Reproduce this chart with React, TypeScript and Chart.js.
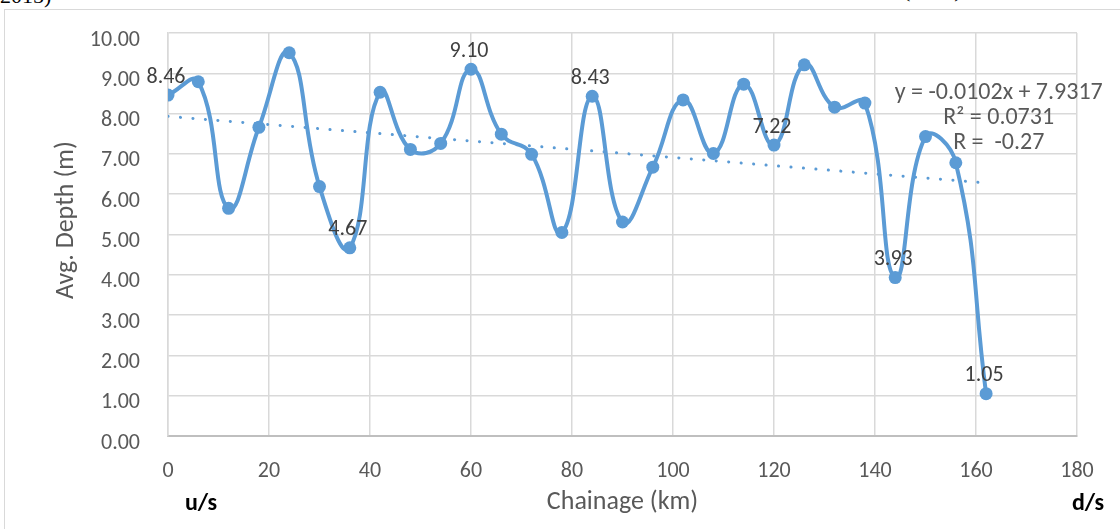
import React, { useEffect, useRef } from "react";
import { Chart, registerables } from "chart.js";

Chart.register(...registerables);

// ---- data ----
const chainageKm = [0, 6, 12, 18, 24, 30, 36, 42, 48, 54, 60, 66, 72, 78, 84, 90, 96, 102, 108, 114, 120, 126, 132, 138, 144, 150, 156, 162];
const avgDepthM = [8.46, 8.79, 5.65, 7.66, 9.51, 6.19, 4.67, 8.53, 7.11, 7.26, 9.10, 7.49, 6.99, 5.05, 8.43, 5.31, 6.67, 8.34, 7.01, 8.73, 7.22, 9.21, 8.16, 8.26, 3.93, 7.43, 6.78, 1.05];
const labelledPoints = [0, 6, 10, 14, 20, 24, 27];
const trendSlope = -0.0102;
const trendIntercept = 7.9317;
const trendText = ["y = -0.0102x + 7.9317", "R\u00B2 = 0.0731", "R =  -0.27"];
const trendTextAnchor = { x: 164.5, y: 8.5 };
const xTitle = "Chainage (km)";
const yTitle = "Avg. Depth (m)";
const upstreamLabel = "u/s";
const downstreamLabel = "d/s";
const xMin = 0, xMax = 180, xStep = 20;
const yMin = 0, yMax = 10, yStep = 1;

const FONT = "Carlito, Lato, 'Open Sans', sans-serif";
const BLUE = "#5B9BD5";

const extrasPlugin = {
  id: "extras",
  afterDatasetsDraw(chart: any) {
    const { ctx, chartArea, scales } = chart;
    const meta = chart.getDatasetMeta(0);
    ctx.save();
    ctx.font = `22px ${FONT}`;
    ctx.fillStyle = "#404040";
    ctx.textAlign = "center";
    ctx.textBaseline = "middle";
    labelledPoints.forEach((i) => {
      const el = meta.data[i];
      if (!el) return;
      ctx.fillText(avgDepthM[i].toFixed(2), el.x - 2, el.y - 18);
    });
    ctx.fillStyle = "#595959";
    ctx.font = `24px ${FONT}`;
    const tx = scales.x.getPixelForValue(trendTextAnchor.x);
    const ty = scales.y.getPixelForValue(trendTextAnchor.y);
    trendText.forEach((t, k) => ctx.fillText(t, tx, ty + k * 25));
    ctx.font = `26px ${FONT}`;
    ctx.save();
    ctx.translate(66, 220);
    ctx.rotate(-Math.PI / 2);
    ctx.fillText(yTitle, 0, 0);
    ctx.restore();
    ctx.fillStyle = "#000000";
    ctx.font = `bold 24px ${FONT}`;
    ctx.textBaseline = "alphabetic";
    ctx.fillText(upstreamLabel, chartArea.left + 33, 510);
    ctx.fillText(downstreamLabel, chartArea.right + 11, 510);
    ctx.restore();
  },
};

export default function App() {
  const ref = useRef<HTMLCanvasElement | null>(null);
  useEffect(() => {
    if (!ref.current) return;
    const points = chainageKm.map((x, i) => ({ x, y: avgDepthM[i] }));
    const x0 = chainageKm[0];
    const x1 = chainageKm[chainageKm.length - 1];
    const trend = [
      { x: x0, y: trendIntercept + trendSlope * x0 },
      { x: x1, y: trendIntercept + trendSlope * x1 },
    ];
    const chart = new Chart(ref.current, {
      type: "line",
      data: {
        datasets: [
          {
            data: points,
            borderColor: BLUE,
            backgroundColor: BLUE,
            borderWidth: 4,
            tension: 0.45,
            pointRadius: 6.5,
            pointBorderWidth: 0,
            pointBackgroundColor: BLUE,
            pointHoverRadius: 6.5,
          },
          {
            data: trend,
            borderColor: BLUE,
            borderWidth: 3,
            borderDash: [0.1, 12.4],
            borderCapStyle: "round",
            pointRadius: 0,
            tension: 0,
          },
        ],
      },
      options: {
        animation: false,
        responsive: false,
        events: [],
        layout: { padding: { top: 33, right: 43, left: 0, bottom: 0 } },
        plugins: { legend: { display: false }, tooltip: { enabled: false } },
        scales: {
          x: {
            type: "linear",
            min: xMin,
            max: xMax,
            ticks: { stepSize: xStep, padding: 22, color: "#595959", font: { family: FONT, size: 22 } },
            grid: { color: "#d9d9d9", lineWidth: 1.5, drawTicks: false },
            border: { color: "#bfbfbf", width: 2 },
            title: { display: true, text: xTitle, color: "#595959", font: { family: FONT, size: 26 }, padding: { top: 0, bottom: 11 } },
            afterFit: (s: any) => { s.height = 93; },
          },
          y: {
            min: yMin,
            max: yMax,
            ticks: { stepSize: yStep, padding: 28, labelOffset: 7, color: "#595959", font: { family: FONT, size: 22 }, callback: (v: any) => Number(v).toFixed(2) },
            grid: { color: "#d9d9d9", lineWidth: 1.5, drawTicks: false },
            border: { color: "#d9d9d9", width: 1.5 },
            afterFit: (s: any) => { s.width = 168; s.paddingTop = 0; s.paddingBottom = 0; },
          },
        },
      },
      plugins: [extrasPlugin],
    });
    return () => chart.destroy();
  }, []);

  return (
    <div style={{ position: "fixed", left: 0, top: 0, width: 1120, height: 529, overflow: "hidden", background: "#fff" }}>
      <div style={{ position: "absolute", left: 0, top: -17, fontFamily: "'Liberation Serif', 'Times New Roman', serif", fontSize: 22, color: "#000" }}>2015)</div>
      <div style={{ position: "absolute", left: 903, top: -23, fontFamily: "'Liberation Serif', 'Times New Roman', serif", fontSize: 22, color: "#000" }}>(2015)</div>
      <div style={{ position: "absolute", left: 4, top: 9, width: 1300, height: 700, border: "1px solid #d9d9d9" }} />
      <canvas ref={ref} width={1120} height={529} style={{ position: "absolute", left: 0, top: 0, width: 1120, height: 529 }} />
    </div>
  );
}
